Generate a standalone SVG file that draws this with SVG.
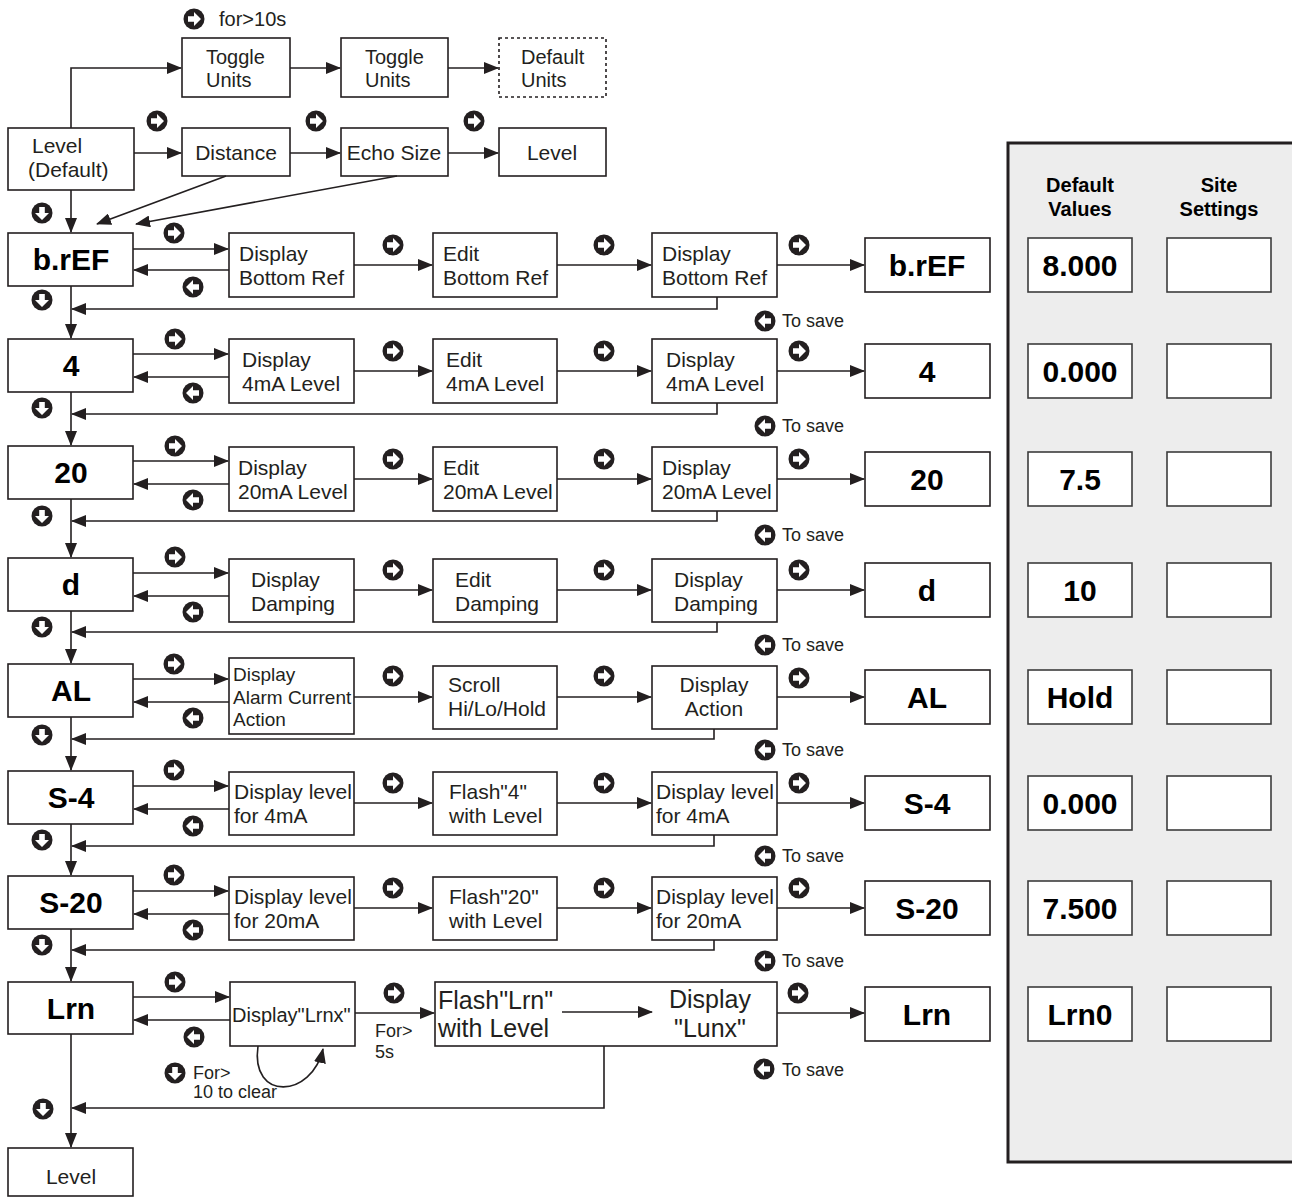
<svg xmlns="http://www.w3.org/2000/svg" xmlns:xlink="http://www.w3.org/1999/xlink" width="1292" height="1197" viewBox="0 0 1292 1197">
<style>
.bx{fill:#fff;stroke:#231f20;stroke-width:1.6}
.vb{fill:#fff;stroke:#3c3c3c;stroke-width:1.6}
.ds{fill:#fff;stroke:#231f20;stroke-width:1.6;stroke-dasharray:3 3}
.ln{fill:none;stroke:#231f20;stroke-width:1.6}
.ar{marker-end:url(#ah)}
text{font-family:"Liberation Sans",Arial,Helvetica,sans-serif;fill:#231f20}
.t{font-size:21px}
.t20{font-size:20px}
.t19{font-size:19px}
.t25{font-size:25px}
.s{font-size:18px}
.b{font-size:30px;font-weight:bold;text-anchor:middle;fill:#000}
.h{font-size:20px;font-weight:bold;text-anchor:middle;fill:#000}
.m{text-anchor:middle}
</style>
<defs>
<marker id="ah" markerUnits="userSpaceOnUse" markerWidth="15" markerHeight="12" refX="14" refY="6" orient="auto">
<path d="M0,0 L15,6 L0,12 Z" fill="#231f20"/>
</marker>
<g id="ir"><circle r="10.5" fill="#231f20"/><path d="M-6,-2.8 H0 V-7 L7,0 L0,7 V2.8 H-6 Z" fill="#fff"/></g>
<g id="il"><use xlink:href="#ir" transform="rotate(180)"/></g>
<g id="id"><use xlink:href="#ir" transform="rotate(90)"/></g>
</defs>
<rect width="1292" height="1197" fill="#fff"/>

<!-- right panel -->
<g id="panel">
<rect x="1008" y="143" width="310" height="1019" fill="#ededed" stroke="#231f20" stroke-width="3"/>
<text class="h" x="1080" y="192">Default</text>
<text class="h" x="1080" y="216">Values</text>
<text class="h" x="1219" y="192">Site</text>
<text class="h" x="1219" y="216">Settings</text>
</g>
<g id="values">
<rect class="vb" x="1028" y="238" width="104" height="54"/><text class="b" x="1080" y="276">8.000</text><rect class="vb" x="1167" y="238" width="104" height="54"/>
<rect class="vb" x="1028" y="344" width="104" height="54"/><text class="b" x="1080" y="382">0.000</text><rect class="vb" x="1167" y="344" width="104" height="54"/>
<rect class="vb" x="1028" y="452" width="104" height="54"/><text class="b" x="1080" y="490">7.5</text><rect class="vb" x="1167" y="452" width="104" height="54"/>
<rect class="vb" x="1028" y="563" width="104" height="54"/><text class="b" x="1080" y="601">10</text><rect class="vb" x="1167" y="563" width="104" height="54"/>
<rect class="vb" x="1028" y="670" width="104" height="54"/><text class="b" x="1080" y="708">Hold</text><rect class="vb" x="1167" y="670" width="104" height="54"/>
<rect class="vb" x="1028" y="776" width="104" height="54"/><text class="b" x="1080" y="814">0.000</text><rect class="vb" x="1167" y="776" width="104" height="54"/>
<rect class="vb" x="1028" y="881" width="104" height="54"/><text class="b" x="1080" y="919">7.500</text><rect class="vb" x="1167" y="881" width="104" height="54"/>
<rect class="vb" x="1028" y="987" width="104" height="54"/><text class="b" x="1080" y="1025">Lrn0</text><rect class="vb" x="1167" y="987" width="104" height="54"/>
</g>

<!-- top nodes -->
<g id="n-toggle1"><rect class="bx" x="182" y="38" width="108" height="59"/><text class="t20" x="206" y="64">Toggle</text><text class="t20" x="206" y="87">Units</text></g>
<g id="n-toggle2"><rect class="bx" x="341" y="38" width="107" height="59"/><text class="t20" x="365" y="64">Toggle</text><text class="t20" x="365" y="87">Units</text></g>
<g id="n-default-units"><rect class="ds" x="499" y="38" width="107" height="59"/><text class="t20" x="521" y="64">Default</text><text class="t20" x="521" y="87">Units</text></g>
<g id="n-level-default"><rect class="bx" x="8" y="128" width="126" height="62"/><text class="t" x="32" y="153">Level</text><text class="t" x="28" y="177">(Default)</text></g>
<g id="n-distance"><rect class="bx" x="182" y="128" width="108" height="48"/><text class="t m" x="236" y="160">Distance</text></g>
<g id="n-echo"><rect class="bx" x="341" y="128" width="107" height="48"/><text class="t m" x="394" y="160">Echo Size</text></g>
<g id="n-level-top"><rect class="bx" x="499" y="128" width="107" height="48"/><text class="t m" x="552" y="160">Level</text></g>

<!-- row b.rEF -->
<g id="n-bref"><rect class="bx" x="8" y="233" width="125" height="53"/><text class="b" x="71" y="270">b.rEF</text></g>
<g id="n-bref-1"><rect class="bx" x="229" y="233" width="125" height="64"/><text class="t" x="239" y="261">Display</text><text class="t" x="239" y="285">Bottom Ref</text></g>
<g id="n-bref-2"><rect class="bx" x="433" y="233" width="124" height="64"/><text class="t" x="443" y="261">Edit</text><text class="t" x="443" y="285">Bottom Ref</text></g>
<g id="n-bref-3"><rect class="bx" x="652" y="233" width="125" height="64"/><text class="t" x="662" y="261">Display</text><text class="t" x="662" y="285">Bottom Ref</text></g>
<g id="n-bref-r"><rect class="bx" x="865" y="238" width="125" height="54"/><text class="b" x="927" y="276">b.rEF</text></g>

<!-- row 4 -->
<g id="n-4"><rect class="bx" x="8" y="339" width="125" height="53"/><text class="b" x="71" y="376">4</text></g>
<g id="n-4-1"><rect class="bx" x="229" y="339" width="125" height="64"/><text class="t" x="242" y="367">Display</text><text class="t" x="242" y="391">4mA Level</text></g>
<g id="n-4-2"><rect class="bx" x="433" y="339" width="124" height="64"/><text class="t" x="446" y="367">Edit</text><text class="t" x="446" y="391">4mA Level</text></g>
<g id="n-4-3"><rect class="bx" x="652" y="339" width="125" height="64"/><text class="t" x="666" y="367">Display</text><text class="t" x="666" y="391">4mA Level</text></g>
<g id="n-4-r"><rect class="bx" x="865" y="344" width="125" height="54"/><text class="b" x="927" y="382">4</text></g>

<!-- row 20 -->
<g id="n-20"><rect class="bx" x="8" y="446" width="125" height="53"/><text class="b" x="71" y="483">20</text></g>
<g id="n-20-1"><rect class="bx" x="229" y="447" width="125" height="64"/><text class="t" x="238" y="475">Display</text><text class="t" x="238" y="499">20mA Level</text></g>
<g id="n-20-2"><rect class="bx" x="433" y="447" width="124" height="64"/><text class="t" x="443" y="475">Edit</text><text class="t" x="443" y="499">20mA Level</text></g>
<g id="n-20-3"><rect class="bx" x="652" y="447" width="125" height="64"/><text class="t" x="662" y="475">Display</text><text class="t" x="662" y="499">20mA Level</text></g>
<g id="n-20-r"><rect class="bx" x="865" y="452" width="125" height="54"/><text class="b" x="927" y="490">20</text></g>

<!-- row d -->
<g id="n-d"><rect class="bx" x="8" y="558" width="125" height="53"/><text class="b" x="71" y="595">d</text></g>
<g id="n-d-1"><rect class="bx" x="229" y="559" width="125" height="63"/><text class="t" x="251" y="587">Display</text><text class="t" x="251" y="611">Damping</text></g>
<g id="n-d-2"><rect class="bx" x="433" y="559" width="124" height="63"/><text class="t" x="455" y="587">Edit</text><text class="t" x="455" y="611">Damping</text></g>
<g id="n-d-3"><rect class="bx" x="652" y="559" width="125" height="63"/><text class="t" x="674" y="587">Display</text><text class="t" x="674" y="611">Damping</text></g>
<g id="n-d-r"><rect class="bx" x="865" y="563" width="125" height="54"/><text class="b" x="927" y="601">d</text></g>

<!-- row AL -->
<g id="n-al"><rect class="bx" x="8" y="664" width="125" height="53"/><text class="b" x="71" y="701">AL</text></g>
<g id="n-al-1"><rect class="bx" x="229" y="658" width="125" height="76"/><text class="t19" x="233" y="681">Display</text><text class="t19" x="233" y="704">Alarm Current</text><text class="t19" x="233" y="726">Action</text></g>
<g id="n-al-2"><rect class="bx" x="433" y="666" width="124" height="63"/><text class="t" x="448" y="692">Scroll</text><text class="t" x="448" y="716">Hi/Lo/Hold</text></g>
<g id="n-al-3"><rect class="bx" x="652" y="666" width="125" height="63"/><text class="t m" x="714" y="692">Display</text><text class="t m" x="714" y="716">Action</text></g>
<g id="n-al-r"><rect class="bx" x="865" y="670" width="125" height="54"/><text class="b" x="927" y="708">AL</text></g>

<!-- row S-4 -->
<g id="n-s4"><rect class="bx" x="8" y="771" width="125" height="53"/><text class="b" x="71" y="808">S-4</text></g>
<g id="n-s4-1"><rect class="bx" x="229" y="772" width="125" height="63"/><text class="t" x="234" y="799">Display level</text><text class="t" x="234" y="823">for 4mA</text></g>
<g id="n-s4-2"><rect class="bx" x="433" y="772" width="124" height="63"/><text class="t" x="449" y="799">Flash"4"</text><text class="t" x="449" y="823">with Level</text></g>
<g id="n-s4-3"><rect class="bx" x="652" y="772" width="125" height="63"/><text class="t" x="656" y="799">Display level</text><text class="t" x="656" y="823">for 4mA</text></g>
<g id="n-s4-r"><rect class="bx" x="865" y="776" width="125" height="54"/><text class="b" x="927" y="814">S-4</text></g>

<!-- row S-20 -->
<g id="n-s20"><rect class="bx" x="8" y="876" width="125" height="53"/><text class="b" x="71" y="913">S-20</text></g>
<g id="n-s20-1"><rect class="bx" x="229" y="877" width="125" height="63"/><text class="t" x="234" y="904">Display level</text><text class="t" x="234" y="928">for 20mA</text></g>
<g id="n-s20-2"><rect class="bx" x="433" y="877" width="124" height="63"/><text class="t" x="449" y="904">Flash"20"</text><text class="t" x="449" y="928">with Level</text></g>
<g id="n-s20-3"><rect class="bx" x="652" y="877" width="125" height="63"/><text class="t" x="656" y="904">Display level</text><text class="t" x="656" y="928">for 20mA</text></g>
<g id="n-s20-r"><rect class="bx" x="865" y="881" width="125" height="54"/><text class="b" x="927" y="919">S-20</text></g>

<!-- row Lrn -->
<g id="n-lrn"><rect class="bx" x="8" y="982" width="125" height="52"/><text class="b" x="71" y="1019">Lrn</text></g>
<g id="n-lrn-1"><rect class="bx" x="230" y="982" width="125" height="64"/><text class="t20" x="232" y="1022">Display"Lrnx"</text></g>
<g id="n-lrn-2"><rect class="bx" x="435" y="982" width="342" height="64"/><text class="t25" x="438" y="1009">Flash"Lrn"</text><text class="t25" x="438" y="1037">with Level</text><text class="t25 m" x="710" y="1008">Display</text><text class="t25 m" x="710" y="1037">"Lunx"</text></g>
<g id="n-lrn-r"><rect class="bx" x="865" y="987" width="125" height="54"/><text class="b" x="927" y="1025">Lrn</text></g>
<g id="n-level-bottom"><rect class="bx" x="8" y="1148" width="125" height="48"/><text class="t m" x="71" y="1184">Level</text></g>

<!-- connectors -->
<g id="connectors">
<path class="ln ar" d="M71,128 V68 H181"/>
<path class="ln ar" d="M290,68 H340"/>
<path class="ln ar" d="M448,68 H498"/>
<path class="ln ar" d="M134,153 H181"/>
<path class="ln ar" d="M290,153 H340"/>
<path class="ln ar" d="M448,153 H498"/>
<path class="ln ar" d="M226,176 L97,224"/>
<path class="ln ar" d="M397,176 L136,224"/>
<path class="ln ar" d="M71,190 V232"/>
<path class="ln ar" d="M133,249 H228"/><path class="ln ar" d="M229,270 H134"/>
<path class="ln ar" d="M354,265 H432"/><path class="ln ar" d="M557,265 H651"/><path class="ln ar" d="M777,265 H864"/>
<path class="ln ar" d="M717,297 V309 H72"/><path class="ln ar" d="M71,286 V338"/>
<path class="ln ar" d="M133,354 H228"/><path class="ln ar" d="M229,377 H134"/>
<path class="ln ar" d="M354,371 H432"/><path class="ln ar" d="M557,371 H651"/><path class="ln ar" d="M777,371 H864"/>
<path class="ln ar" d="M717,403 V414 H72"/><path class="ln ar" d="M71,392 V445"/>
<path class="ln ar" d="M133,461 H228"/><path class="ln ar" d="M229,484 H134"/>
<path class="ln ar" d="M354,479 H432"/><path class="ln ar" d="M557,479 H651"/><path class="ln ar" d="M777,479 H864"/>
<path class="ln ar" d="M717,511 V521 H72"/><path class="ln ar" d="M71,499 V557"/>
<path class="ln ar" d="M133,573 H228"/><path class="ln ar" d="M229,596 H134"/>
<path class="ln ar" d="M354,590 H432"/><path class="ln ar" d="M557,590 H651"/><path class="ln ar" d="M777,590 H864"/>
<path class="ln ar" d="M717,622 V632 H72"/><path class="ln ar" d="M71,611 V663"/>
<path class="ln ar" d="M133,679 H228"/><path class="ln ar" d="M229,702 H134"/>
<path class="ln ar" d="M354,697 H432"/><path class="ln ar" d="M557,697 H651"/><path class="ln ar" d="M777,697 H864"/>
<path class="ln ar" d="M714,729 V739 H72"/><path class="ln ar" d="M71,717 V770"/>
<path class="ln ar" d="M133,786 H228"/><path class="ln ar" d="M229,809 H134"/>
<path class="ln ar" d="M354,803 H432"/><path class="ln ar" d="M557,803 H651"/><path class="ln ar" d="M777,803 H864"/>
<path class="ln ar" d="M714,835 V846 H72"/><path class="ln ar" d="M71,824 V875"/>
<path class="ln ar" d="M133,891 H228"/><path class="ln ar" d="M229,914 H134"/>
<path class="ln ar" d="M354,908 H432"/><path class="ln ar" d="M557,908 H651"/><path class="ln ar" d="M777,908 H864"/>
<path class="ln ar" d="M714,940 V950 H72"/><path class="ln ar" d="M71,929 V981"/>
<path class="ln ar" d="M133,997 H229"/><path class="ln ar" d="M230,1020 H134"/>
<path class="ln ar" d="M355,1013 H434"/><path class="ln ar" d="M562,1012 H652"/><path class="ln ar" d="M777,1013 H864"/>
<path class="ln ar" d="M258,1046 C250,1102 312,1098 323,1049"/>
<path class="ln ar" d="M604,1046 V1108 H72"/><path class="ln ar" d="M71,1034 V1147"/>
</g>

<!-- icons & annotations -->
<g id="icons">
<use xlink:href="#ir" x="194" y="19"/><text class="t20" x="219" y="26">for&gt;10s</text>
<use xlink:href="#ir" x="157" y="121"/><use xlink:href="#ir" x="316" y="121"/><use xlink:href="#ir" x="474" y="121"/>
<use xlink:href="#id" x="42" y="213"/>
<use xlink:href="#ir" x="174" y="233"/><use xlink:href="#il" x="193" y="287"/>
<use xlink:href="#ir" x="393" y="245"/><use xlink:href="#ir" x="604" y="245"/><use xlink:href="#ir" x="799" y="245"/>
<use xlink:href="#id" x="42" y="300"/><use xlink:href="#il" x="765" y="321"/><text class="s" x="782" y="327">To save</text>
<use xlink:href="#ir" x="175" y="339"/><use xlink:href="#il" x="193" y="393"/>
<use xlink:href="#ir" x="393" y="351"/><use xlink:href="#ir" x="604" y="351"/><use xlink:href="#ir" x="799" y="351"/>
<use xlink:href="#id" x="42" y="408"/><use xlink:href="#il" x="765" y="426"/><text class="s" x="782" y="432">To save</text>
<use xlink:href="#ir" x="175" y="446"/><use xlink:href="#il" x="193" y="500"/>
<use xlink:href="#ir" x="393" y="459"/><use xlink:href="#ir" x="604" y="459"/><use xlink:href="#ir" x="799" y="459"/>
<use xlink:href="#id" x="42" y="516"/><use xlink:href="#il" x="765" y="535"/><text class="s" x="782" y="541">To save</text>
<use xlink:href="#ir" x="175" y="557"/><use xlink:href="#il" x="193" y="612"/>
<use xlink:href="#ir" x="393" y="570"/><use xlink:href="#ir" x="604" y="570"/><use xlink:href="#ir" x="799" y="570"/>
<use xlink:href="#id" x="42" y="627"/><use xlink:href="#il" x="765" y="645"/><text class="s" x="782" y="651">To save</text>
<use xlink:href="#ir" x="174" y="664"/><use xlink:href="#il" x="193" y="718"/>
<use xlink:href="#ir" x="393" y="676"/><use xlink:href="#ir" x="604" y="676"/><use xlink:href="#ir" x="799" y="678"/>
<use xlink:href="#id" x="42" y="735"/><use xlink:href="#il" x="765" y="750"/><text class="s" x="782" y="756">To save</text>
<use xlink:href="#ir" x="174" y="770"/><use xlink:href="#il" x="193" y="826"/>
<use xlink:href="#ir" x="393" y="783"/><use xlink:href="#ir" x="604" y="783"/><use xlink:href="#ir" x="799" y="783"/>
<use xlink:href="#id" x="42" y="840"/><use xlink:href="#il" x="765" y="856"/><text class="s" x="782" y="862">To save</text>
<use xlink:href="#ir" x="174" y="875"/><use xlink:href="#il" x="193" y="930"/>
<use xlink:href="#ir" x="393" y="888"/><use xlink:href="#ir" x="604" y="888"/><use xlink:href="#ir" x="799" y="888"/>
<use xlink:href="#id" x="42" y="945"/><use xlink:href="#il" x="765" y="961"/><text class="s" x="782" y="967">To save</text>
<use xlink:href="#ir" x="175" y="982"/><use xlink:href="#il" x="194" y="1037"/>
<use xlink:href="#ir" x="394" y="993"/><use xlink:href="#ir" x="798" y="993"/>
<text class="s" x="375" y="1037">For&gt;</text><text class="s" x="375" y="1058">5s</text>
<use xlink:href="#id" x="175" y="1073"/><text class="s" x="193" y="1079">For&gt;</text><text class="s" x="193" y="1098">10 to clear</text>
<use xlink:href="#id" x="43" y="1109"/><use xlink:href="#il" x="764" y="1069"/><text class="s" x="782" y="1076">To save</text>
</g>
</svg>
